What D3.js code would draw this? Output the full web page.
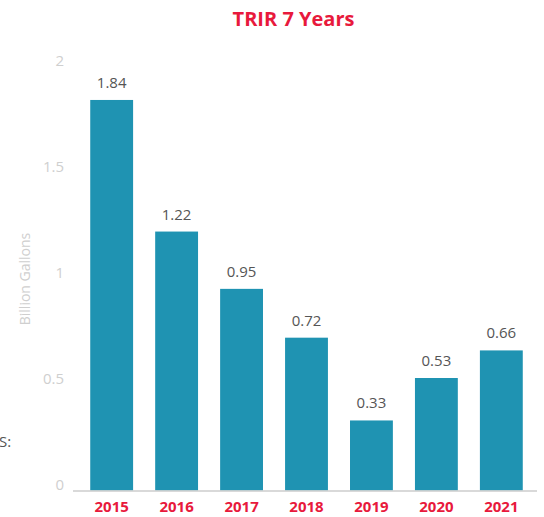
<!DOCTYPE html>
<html>
<head>
<meta charset="utf-8">
<script src="https://cdn.jsdelivr.net/npm/d3@7"></script>
<style>
  body { margin: 0; background: #fff; }
  svg { display: block; font-family: "Open Sans", sans-serif; }
</style>
</head>
<body>
<svg id="chart"></svg>
<script>
const years = ['2015', '2016', '2017', '2018', '2019', '2020', '2021'];
const values = [1.84, 1.22, 0.95, 0.72, 0.33, 0.53, 0.66];
const yTicks = [0, 0.5, 1, 1.5, 2];
const yLabels = ['0', '0.5', '1', '1.5', '2'];

const width = 544, height = 517;
const svg = d3.select('#chart').attr('width', width).attr('height', height);

const x = d3.scaleBand()
    .domain(years)
    .range([74, 539])
    .paddingInner(0.34)
    .paddingOuter(0.25);

const y = d3.scaleLinear()
    .domain([0, 2])
    .range([490.5, 66]);

// title
svg.append('text')
    .attr('x', 293.5)
    .attr('y', 26)
    .attr('text-anchor', 'middle')
    .attr('font-size', 20)
    .attr('font-weight', 'bold')
    .attr('fill', '#e8193c')
    .text('TRIR 7 Years');

// y axis labels (no line)
const yAxis = svg.append('g')
    .attr('transform', 'translate(64,0)')
    .call(d3.axisLeft(y).tickValues(yTicks).tickFormat((d, i) => yLabels[i]).tickSize(0).tickPadding(0));
yAxis.select('.domain').remove();
yAxis.selectAll('text')
    .attr('font-family', '"Open Sans", sans-serif')
    .attr('font-size', 15)
    .attr('fill', '#cfcfcf');
yAxis.selectAll('.tick').attr('transform', d => `translate(0,${y(d) - 5})`);

svg.append('text')
    .attr('transform', 'translate(30,279) rotate(-90)')
    .attr('text-anchor', 'middle')
    .attr('font-size', 14)
    .attr('fill', '#cfcfcf')
    .text('Billion Gallons');

// bars
svg.selectAll('rect.bar')
    .data(values)
    .enter()
    .append('rect')
    .attr('class', 'bar')
    .attr('x', (d, i) => x(years[i]))
    .attr('y', d => y(d))
    .attr('width', x.bandwidth())
    .attr('height', d => y(0) - y(d))
    .attr('fill', '#1f93b2');

// value labels
svg.selectAll('text.val')
    .data(values)
    .enter()
    .append('text')
    .attr('class', 'val')
    .attr('x', (d, i) => x(years[i]) + x.bandwidth() / 2)
    .attr('y', d => y(d) - 12)
    .attr('text-anchor', 'middle')
    .attr('font-size', 15)
    .attr('fill', '#555')
    .text(d => d.toFixed(2));

// x axis
const xAxis = svg.append('g')
    .attr('transform', 'translate(0,491)')
    .call(d3.axisBottom(x).tickSize(0).tickPadding(10));
xAxis.select('.domain')
    .attr('stroke', '#cccccc')
    .attr('stroke-width', 1.5)
    .attr('d', 'M73,0H537');
xAxis.selectAll('text')
    .attr('font-family', '"Open Sans", sans-serif')
    .attr('font-size', 15)
    .attr('font-weight', 'bold')
    .attr('fill', '#e8193c');

// stray cropped text at left edge
svg.append('text')
    .attr('x', -1)
    .attr('y', 447)
    .attr('font-size', 15)
    .attr('fill', '#555')
    .text('S:');
</script>
</body>
</html>
